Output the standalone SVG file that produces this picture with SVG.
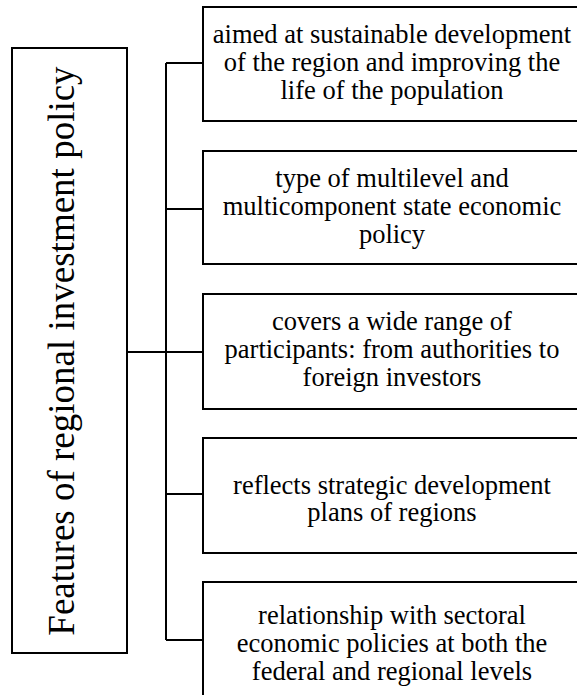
<svg xmlns="http://www.w3.org/2000/svg" width="577" height="695" viewBox="0 0 577 695">
<defs>
<style>
.box{fill:#fff;stroke:#000;stroke-width:2}
.lbl{font-family:"Liberation Serif","Times New Roman",serif;font-size:26.5px;fill:#000;text-anchor:middle}
.vert{font-family:"Liberation Serif","Times New Roman",serif;font-size:37px;fill:#000;text-anchor:middle}
.c{fill:none;stroke:#000;stroke-width:2}
</style>
</defs>
<rect width="577" height="695" fill="#fff"/>
<g id="connectors">
<path class="c" d="M127 352H203M166 63V640M166 63H203M166 209H203M166 494H203M166 640H203"/>
</g>
<g id="main">
<rect class="box" x="12" y="48" width="115" height="605"/>
<text class="vert" transform="translate(74 351) rotate(-90)">Features of regional investment policy</text>
</g>
<g id="n1">
<rect class="box" x="203" y="7" width="378" height="114"/>
<text class="lbl" x="392" y="43">aimed at sustainable development</text>
<text class="lbl" x="392" y="71">of the region and improving the</text>
<text class="lbl" x="392" y="99">life of the population</text>
</g>
<g id="n2">
<rect class="box" x="203" y="151" width="378" height="113"/>
<text class="lbl" x="392" y="187">type of multilevel and</text>
<text class="lbl" x="392" y="215">multicomponent state economic</text>
<text class="lbl" x="392" y="243">policy</text>
</g>
<g id="n3">
<rect class="box" x="203" y="294" width="378" height="115"/>
<text class="lbl" x="392" y="330">covers a wide range of</text>
<text class="lbl" x="392" y="358">participants: from authorities to</text>
<text class="lbl" x="392" y="386">foreign investors</text>
</g>
<g id="n4">
<rect class="box" x="203" y="438" width="378" height="115"/>
<text class="lbl" x="392" y="494">reflects strategic development</text>
<text class="lbl" x="392" y="521">plans of regions</text>
</g>
<g id="n5">
<rect class="box" x="203" y="582" width="378" height="125"/>
<text class="lbl" x="392" y="624">relationship with sectoral</text>
<text class="lbl" x="392" y="652">economic policies at both the</text>
<text class="lbl" x="392" y="680">federal and regional levels</text>
</g>
</svg>
